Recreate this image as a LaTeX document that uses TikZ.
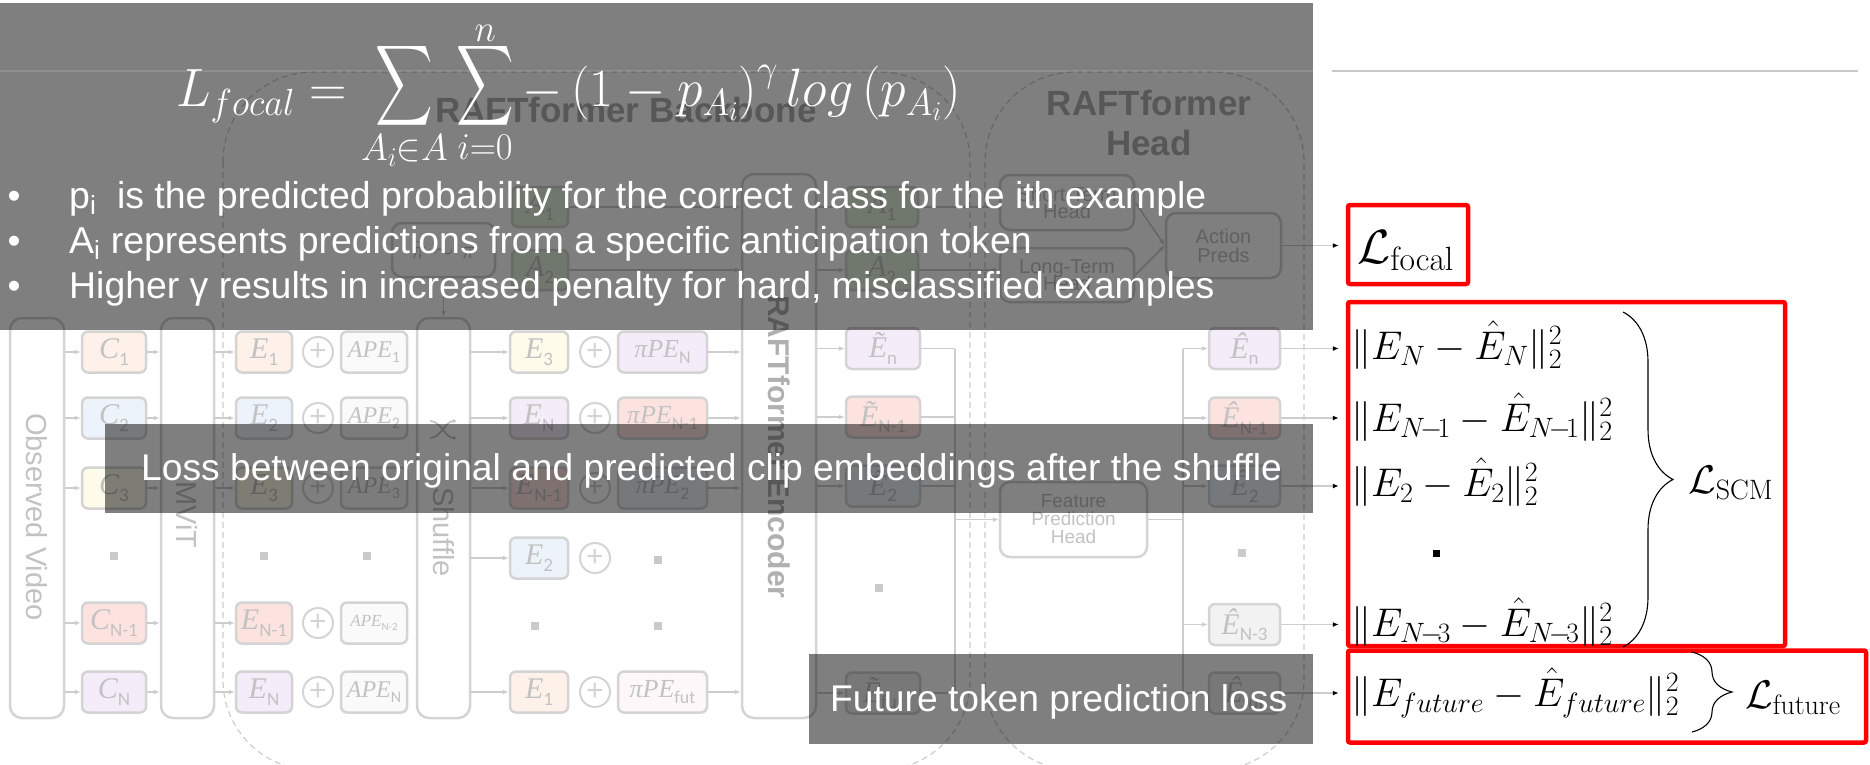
\RequirePackage{fix-cm}
\documentclass[tikz,border=0pt]{standalone}
\usepackage{amsmath}
\usepackage{exscale}
\usepackage{graphicx}
\usepackage[no-math]{fontspec}
\setmainfont{Liberation Sans}
\newfontfamily\lserif{Liberation Serif}
\newfontfamily\lsans{Carlito}
\usetikzlibrary{arrows.meta,decorations.pathreplacing,calc}
\definecolor{bordergray}{HTML}{D4D4D4}
\definecolor{linegray}{HTML}{CDCDCD}
\definecolor{txtgray}{HTML}{C2C2C2}
\definecolor{dotgray}{HTML}{CACACA}
\definecolor{titlegray}{HTML}{B0B0B0}
\definecolor{rulegray}{HTML}{C8C8C8}
\definecolor{fOrange}{HTML}{FDF1EA}
\definecolor{fBlue}{HTML}{EDF3FA}
\definecolor{fYellow}{HTML}{FEFBEA}
\definecolor{fRed}{HTML}{FDE3DF}
\definecolor{fPurple}{HTML}{F4ECF9}
\definecolor{fWhite}{HTML}{FAFAFA}
\definecolor{fPink}{HTML}{FDF7F9}
\definecolor{fGray}{HTML}{F2F2F2}
\definecolor{fGreen}{HTML}{E2EFD9}
\definecolor{lossred}{HTML}{FF0000}
\newcommand{\fs}[1]{\fontsize{#1}{#1}\selectfont}
\newcommand{\tk}[4]{\fontsize{#1}{#1}\selectfont{\lserif\itshape #2}\raisebox{-0.22em}{\fontsize{#3}{#3}\selectfont\lsans #4}}
\newcommand{\bigsum}{\mathop{\raisebox{8pt}{$\vcenter{\hbox{\resizebox*{60pt}{90pt}{$\displaystyle\sum$}}}$}}\limits}
\begin{document}
\begin{tikzpicture}[x=1pt,y=-1pt,
  tok/.style={draw=bordergray, line width=2.5pt, rounded corners=6pt, minimum height=41pt, inner sep=0pt, text=txtgray},
  tall/.style={draw=bordergray, line width=2.5pt, rounded corners=12pt, inner sep=0pt},
  headbox/.style={draw=bordergray, line width=2.5pt, rounded corners=10pt, text=txtgray, align=center, font=\fs{20}, inner sep=0pt},
  plusc/.style={draw=bordergray, line width=2pt, circle, minimum size=30pt, inner sep=0pt, text=bordergray, font=\fs{30}},
  dotsq/.style={fill=dotgray, minimum size=8pt, inner sep=0pt},
  conn/.style={draw=linegray, line width=1.5pt, -{Latex[length=6pt,width=5pt]}},
  bus/.style={draw=linegray, line width=1.5pt},
  lossarrow/.style={draw=linegray, line width=1.5pt, -{Latex[length=6pt,width=5pt,color=black]}, shorten >=7pt},
  vtxt/.style={rotate=-90, text=txtgray, font=\fs{29}, inner sep=0pt},
  outline/.style={draw=linegray, line width=1.2pt, dash pattern=on 6pt off 4pt, rounded corners=90pt},
  veil/.style={fill=black, opacity=0.5},
  veiltxt/.style={text=white, inner sep=0pt},
  redbox/.style={draw=lossred, line width=4.5pt, rounded corners=2pt, inner sep=0pt},
  mth/.style={inner sep=0pt, font=\fs{40}},
  lossname/.style={inner sep=0pt, font=\fs{40}},
]
\useasboundingbox (0,0) rectangle (1870,765);
\clip (0,0) rectangle (1870,765);

% dashed group outlines
\draw[outline] (223,72) rectangle (970,770);
\draw[outline] (985,72) rectangle (1304,770);
\node[font=\fs{35}\bfseries, text=titlegray, anchor=base, inner sep=0pt] (bbTitle) at (626,122) {RAFTformer Backbone};
\node[font=\fs{35}\bfseries, text=titlegray, anchor=base, inner sep=0pt] (hdTitleA) at (1149,116) {RAFTformer};
\node[font=\fs{35}\bfseries, text=titlegray, anchor=base, inner sep=0pt] (hdTitleB) at (1149,155) {Head};

% tall boxes
\node[tall, minimum width=54pt, minimum height=400pt] (ov) at (37,518) {};
\node[vtxt] (ovt) at (37,517) {Observed Video};
\node[tall, minimum width=53pt, minimum height=400pt] (mv) at (187.5,518) {};
\node[vtxt] (mvt) at (187.5,515) {MViT};
\node[tall, minimum width=53pt, minimum height=400pt] (sh) at (443.5,518) {};
\node[vtxt] (sht) at (443.5,532) {Shuffle};
\draw[txtgray, line width=1.6pt, -{Latex[length=4pt,width=4pt]}] (430,421) .. controls (441,421) and (445,438) .. (457,438);
\draw[txtgray, line width=1.6pt, -{Latex[length=4pt,width=4pt]}] (430,438) .. controls (441,438) and (445,421) .. (457,421);
\node[tall, minimum width=74pt, minimum height=544pt] (enc) at (779,446) {};
\node[vtxt, font=\fs{30}\bfseries, text=titlegray] (enct) at (779,447) {RAFTformer Encoder};

% permutation and anticipation tokens
\node[headbox, minimum width=103pt, minimum height=54pt, font=\fs{26}] (perm) at (443.5,250) {$\tilde{\pi}\sim\pi$};
\node[tok, fill=fGreen, minimum width=56pt, minimum height=40pt] (a1in) at (540,207) {\tk{30}{A}{19}{1}};
\node[tok, fill=fGreen, minimum width=56pt, minimum height=40pt] (a2in) at (540,270) {\tk{30}{A}{19}{2}};
\node[tok, fill=fGreen, minimum width=72pt, minimum height=40pt] (a1out) at (882,207) {\tk{30}{A}{19}{1}};
\node[tok, fill=fGreen, minimum width=72pt, minimum height=40pt] (a2out) at (882,270) {\tk{30}{A}{19}{2}};
\draw[conn] (perm.south) -- (sh.north);
\draw[conn] (a1in.east) -- (a1in.east -| enc.west);
\draw[conn] (a2in.east) -- (a2in.east -| enc.west);
\draw[conn] (a1out.west -| enc.east) -- (a1out.west);
\draw[conn] (a2out.west -| enc.east) -- (a2out.west);

% head boxes
\node[headbox, minimum width=134pt, minimum height=55pt] (st) at (1067,202.5) {Short-Term\\[-3pt]Head};
\node[headbox, minimum width=134pt, minimum height=54pt] (lt) at (1067,275) {Long-Term\\[-3pt]Head};
\node[headbox, minimum width=115pt, minimum height=65pt] (act) at (1223.5,245.5) {Action\\[-1pt]Preds};
\node[headbox, minimum width=147pt, minimum height=75pt, font=\fs{19}] (fph) at (1073.5,519.5) {Feature\\[-1pt]Prediction\\[-1pt]Head};
\draw[conn] (a1out.east) -- (a1out.east -| st.west);
\draw[conn] (a2out.east) -- (a2out.east -| lt.west);
\draw[conn] (st.east) -- (act.west);
\draw[conn] (lt.east) -- (act.west);

% C column
\node[tok, fill=fOrange, minimum width=64pt] (c1) at (114,352) {\tk{30}{C}{19}{1}};
\node[tok, fill=fBlue,   minimum width=64pt] (c2) at (114,418) {\tk{30}{C}{19}{2}};
\node[tok, fill=fYellow, minimum width=64pt] (c3) at (114,488) {\tk{30}{C}{19}{3}};
\node[dotsq] (cdot) at (114,556) {};
\node[tok, fill=fRed,    minimum width=64pt] (c5) at (114,623) {\tk{30}{C}{19}{N-1}};
\node[tok, fill=fPurple, minimum width=64pt] (c6) at (114,692) {\tk{30}{C}{19}{N}};

% E column
\node[tok, fill=fOrange, minimum width=56pt] (e1) at (264,352) {\tk{30}{E}{19}{1}};
\node[tok, fill=fBlue,   minimum width=56pt] (e2) at (264,418) {\tk{30}{E}{19}{2}};
\node[tok, fill=fYellow, minimum width=56pt] (e3) at (264,488) {\tk{30}{E}{19}{3}};
\node[dotsq] (edot) at (264,556) {};
\node[tok, fill=fRed,    minimum width=56pt] (e5) at (264,623) {\tk{30}{E}{19}{N-1}};
\node[tok, fill=fPurple, minimum width=56pt] (e6) at (264,692) {\tk{30}{E}{19}{N}};

% plus column 1
\node[plusc] (pa1) at (318,352) {+};
\node[plusc] (pa2) at (318,418) {+};
\node[plusc] (pa3) at (318,488) {+};
\node[plusc] (pa5) at (318,623) {+};
\node[plusc] (pa6) at (318,692) {+};

% APE column
\node[tok, fill=fWhite, minimum width=66pt] (ape1) at (374,352) {\tk{24}{APE}{16}{1}};
\node[tok, fill=fWhite, minimum width=66pt] (ape2) at (374,418) {\tk{24}{APE}{16}{2}};
\node[tok, fill=fWhite, minimum width=66pt] (ape3) at (374,488) {\tk{24}{APE}{16}{3}};
\node[dotsq] (apedot) at (367,556) {};
\node[tok, fill=fWhite, minimum width=66pt] (ape5) at (374,623) {\tk{17}{APE}{11}{N-2}};
\node[tok, fill=fWhite, minimum width=66pt] (ape6) at (374,692) {\tk{24}{APE}{16}{N}};

% shuffled E column
\node[tok, fill=fYellow, minimum width=58pt] (ep1) at (539,352) {\tk{30}{E}{19}{3}};
\node[tok, fill=fPurple, minimum width=58pt] (ep2) at (539,418) {\tk{30}{E}{19}{N}};
\node[tok, fill=fRed,    minimum width=58pt] (ep3) at (539,488) {\tk{30}{E}{19}{N-1}};
\node[tok, fill=fBlue,   minimum width=58pt] (ep4) at (539,558) {\tk{30}{E}{19}{2}};
\node[dotsq] (epdot) at (535,626) {};
\node[tok, fill=fOrange, minimum width=58pt] (ep6) at (539,692) {\tk{30}{E}{19}{1}};

% plus column 2
\node[plusc] (pb1) at (595,352) {+};
\node[plusc] (pb2) at (595,418) {+};
\node[plusc] (pb3) at (595,488) {+};
\node[plusc] (pb4) at (595,558) {+};
\node[plusc] (pb6) at (595,692) {+};

% piPE column
\node[tok, fill=fPurple, minimum width=89pt] (pp1) at (662.5,352) {\tk{26}{πPE}{18}{N}};
\node[tok, fill=fRed,    minimum width=89pt] (pp2) at (662.5,418) {\tk{26}{πPE}{18}{N-1}};
\node[tok, fill=fBlue,   minimum width=89pt] (pp3) at (662.5,488) {\tk{26}{πPE}{18}{2}};
\node[dotsq] (ppdotA) at (658,560) {};
\node[dotsq] (ppdotB) at (658,626) {};
\node[tok, fill=fPink,   minimum width=89pt] (pp6) at (662.5,692) {\tk{26}{πPE}{18}{fut}};

% encoder outputs
\node[tok, fill=fPurple, minimum width=74pt] (et1) at (883,348.5) {\tk{30}{Ẽ}{19}{n}};
\node[tok, fill=fRed,    minimum width=74pt] (et2) at (883,417) {\tk{30}{Ẽ}{19}{N-1}};
\node[tok, fill=fBlue,   minimum width=74pt] (et3) at (883,486) {\tk{30}{Ẽ}{19}{2}};
\node[dotsq] (etdot) at (879,588) {};
\node[tok, fill=fGray,   minimum width=74pt] (etf) at (883,693) {\tk{30}{Ẽ}{19}{fut}};

% predicted embeddings
\node[tok, fill=fPurple, minimum width=71pt] (eh1) at (1244.5,348.5) {\tk{30}{Ê}{19}{n}};
\node[tok, fill=fRed,    minimum width=71pt] (eh2) at (1244.5,418) {\tk{30}{Ê}{19}{N-1}};
\node[tok, fill=fBlue,   minimum width=71pt] (eh3) at (1244.5,486) {\tk{30}{Ê}{19}{2}};
\node[dotsq] (ehdot) at (1242,553) {};
\node[tok, fill=fGray,   minimum width=71pt] (eh4) at (1244.5,624.5) {\tk{30}{Ê}{19}{N-3}};
\node[tok, fill=fGray,   minimum width=71pt] (ehf) at (1244.5,693) {\tk{30}{Ê}{19}{fut}};

% connectors left part
\foreach \n in {c1,c2,c3,c5,c6} {
  \draw[conn] (\n.west -| ov.east) -- (\n.west);
  \draw[conn] (\n.east) -- (\n.east -| mv.west);
}
\foreach \n in {e1,e2,e3,e5,e6} {
  \draw[conn] (\n.west -| mv.east) -- (\n.west);
}
\foreach \n in {ep1,ep2,ep3,ep4,ep6} {
  \draw[conn] (\n.west -| sh.east) -- (\n.west);
}
\foreach \n in {pp1,pp2,pp3,pp6} {
  \draw[conn] (\n.east) -- (\n.east -| enc.west);
}
\foreach \n in {et1,et2,et3,etf} {
  \draw[conn] (\n.west -| enc.east) -- (\n.west);
}

% buses
\coordinate (busL) at (955,0);
\coordinate (busR) at (1183,0);
\foreach \n in {et1,et2,et3,etf} {
  \draw[bus] (\n.east) -- (\n.east -| busL);
}
\draw[bus] (et1.east -| busL) -- (etf.east -| busL);
\draw[conn] (fph.west -| busL) -- (fph.west);
\draw[bus] (fph.east) -- (fph.east -| busR);
\draw[bus] (eh1.west -| busR) -- (ehf.west -| busR);
\foreach \n in {eh1,eh2,eh3,eh4,ehf} {
  \draw[conn] (\n.west -| busR) -- (\n.west);
}

% loss boxes
\node[redbox, minimum width=120pt, minimum height=79pt] (lfocal) at (1408,244.5) {};
\node[redbox, minimum width=437pt, minimum height=344pt] (lscm) at (1566.5,474) {};
\node[redbox, minimum width=518pt, minimum height=92pt] (lfut) at (1607,696.5) {};
\node[lossname, anchor=base west, font=\fs{48}] (lfocalt) at (1357,263) {$\mathcal{L}_{\mathrm{focal}}$};

\draw[lossarrow] (act.east) -- (act.east -| lfocal.west);
\foreach \n in {eh1,eh2,eh3,eh4} {
  \draw[lossarrow] (\n.east) -- (\n.east -| lscm.west);
}
\draw[lossarrow] (ehf.east) -- (ehf.east -| lfut.west);

\node[mth, anchor=base west] (m1) at (1351,359) {$\|E_N-\hat{E}_N\|_2^2$};
\node[mth, anchor=base west] (m2) at (1351,431) {$\|E_{N\!-\!1}-\hat{E}_{N\!-\!1}\|_2^2$};
\node[mth, anchor=base west] (m3) at (1351,496) {$\|E_2-\hat{E}_2\|_2^2$};
\node[fill=black, minimum size=7pt, inner sep=0pt] (scmdot) at (1436,553) {};
\node[mth, anchor=base west] (m4) at (1351,636) {$\|E_{N\!-\!3}-\hat{E}_{N\!-\!3}\|_2^2$};
\node[mth, anchor=base west] (m5) at (1351,706) {$\|E_{future}-\hat{E}_{future}\|_2^2$};
\draw[decorate, decoration={brace, amplitude=50pt, aspect=0.5}, line width=1.1pt] (1623,312) -- (1623,647);
\node[lossname, anchor=base west] (lscmt) at (1688,493) {$\mathcal{L}_{\mathrm{SCM}}$};
\draw[decorate, decoration={brace, amplitude=40pt, aspect=0.5}, line width=1.1pt] (1692,652) -- (1692,732);
\node[lossname, anchor=base west] (lfutt) at (1745,708) {$\mathcal{L}_{\mathrm{future}}$};

% veils
\fill[veil] (0,3) rectangle (1313,330);
\fill[veil] (105,424) rectangle (1313,513);
\fill[veil] (809,654) rectangle (1313,744);

% faint top rule
\draw[white, opacity=0.12, line width=1.5pt] (0,71) -- (1313,71);
\draw[rulegray, line width=1.5pt] (1332,71) -- (1858,71);

\node[veiltxt, anchor=base west, font=\fs{54}] (focaleq) at (176,107)
  {\scalebox{0.96}[1]{$\displaystyle L_{focal} = \bigsum_{A_i\in A}\bigsum_{i=0}^{\smash{\raisebox{-6pt}{$\scriptstyle n$}}} {-}\left(1-p_{A_i}\right)^{\gamma} log\left(p_{A_i}\right)$}};
\node[veiltxt, anchor=base, font=\fs{37}] (bu1) at (14,208) {•};
\node[veiltxt, anchor=base, font=\fs{37}] (bu2) at (14,253) {•};
\node[veiltxt, anchor=base, font=\fs{37}] (bu3) at (14,298) {•};
\node[veiltxt, anchor=base west, font=\fs{37.4}] (tx1) at (69,208) {p\textsubscript{i}\ \ is the predicted probability for the correct class for the ith example};
\node[veiltxt, anchor=base west, font=\fs{37.4}] (tx2) at (69,253) {A\textsubscript{i} represents predictions from a specific anticipation token};
\node[veiltxt, anchor=base west, font=\fs{37.4}] (tx3) at (69,298) {Higher γ results in increased penalty for hard, misclassified examples};
\node[veiltxt, anchor=base west, font=\fs{37.2}] (midtxt) at (141,480) {Loss between original and predicted clip embeddings after the shuffle};
\node[veiltxt, anchor=base west, font=\fs{37.2}] (bottxt) at (830,711) {Future token prediction loss};
\end{tikzpicture}
\end{document}
